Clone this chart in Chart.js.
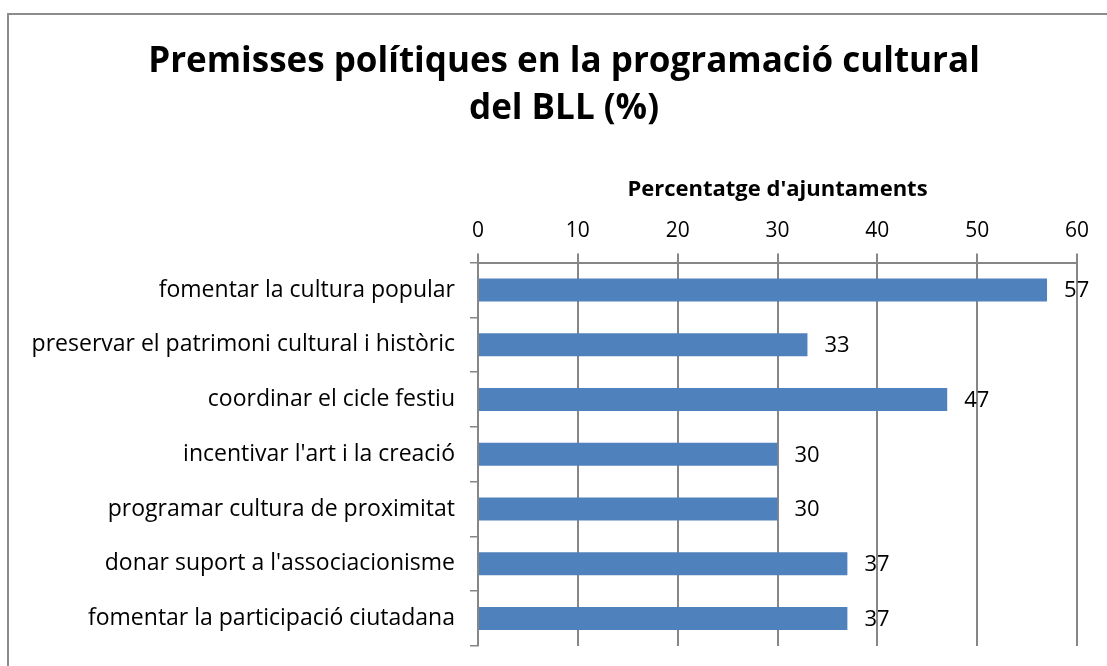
<!DOCTYPE html>
<html>
<head>
<meta charset="utf-8">
<title>Premisses polítiques en la programació cultural del BLL</title>
<script src="https://cdn.jsdelivr.net/npm/chart.js@4"></script>
<style>
  body { margin: 0; background: #fff; }
  canvas { display: block; }
</style>
</head>
<body>
<canvas id="premissesChart" width="1107" height="666"></canvas>
<script>
// Premisses i percentatge d'ajuntaments que les assenyalen
const premisses = [
    'fomentar la cultura popular',
    'preservar el patrimoni cultural i històric',
    'coordinar el cicle festiu',
    "incentivar l'art i la creació",
    'programar cultura de proximitat',
    "donar suport a l'associacionisme",
    'fomentar la participació ciutadana'
];
const percentatges = [57, 33, 47, 30, 30, 37, 37];

// Escala de l'eix horitzontal
const escalaMin = 0;
const escalaMax = 60;
const escalaPas = 10;

const titol = ['Premisses polítiques en la programació cultural', 'del BLL (%)'];

const FONT = "'Open Sans', sans-serif";
const GRIS = '#868686';

// Marc gris i títol (el títol va centrat sobre el marc, no sobre el canvas)
const marc = {
    id: 'marc',
    beforeDraw(chart) {
        const c = chart.ctx;
        c.save();
        c.strokeStyle = '#8c8c8c';
        c.lineWidth = 2;
        c.strokeRect(8, 14, chart.width + 20, chart.height + 20);
        c.fillStyle = '#000';
        c.font = 'bold 35px ' + FONT;
        c.textAlign = 'center';
        c.textBaseline = 'middle';
        titol.forEach((linia, i) => c.fillText(linia, 564, 62 + i * 47));
        c.restore();
    }
};

// Valor al costat de cada barra
const etiquetes = {
    id: 'etiquetes',
    afterDatasetsDraw(chart) {
        const c = chart.ctx;
        const meta = chart.getDatasetMeta(0);
        c.save();
        c.font = '22px ' + FONT;
        c.fillStyle = '#000';
        c.textAlign = 'left';
        c.textBaseline = 'middle';
        meta.data.forEach((bar, i) => {
            c.fillText(String(percentatges[i]), bar.x + 17, bar.y + 1);
        });
        c.restore();
    }
};

new Chart(document.getElementById('premissesChart'), {
    type: 'bar',
    data: {
        labels: premisses,
        datasets: [{
            data: percentatges,
            backgroundColor: '#4F81BD',
            barPercentage: 0.42,
            categoryPercentage: 1
        }]
    },
    options: {
        indexAxis: 'y',
        responsive: false,
        animation: false,
        layout: { padding: { left: 10, right: 30, top: 163, bottom: 20 } },
        plugins: {
            legend: { display: false },
            tooltip: { enabled: false },
            title: { display: false }
        },
        scales: {
            x: {
                position: 'top',
                min: escalaMin,
                max: escalaMax,
                ticks: {
                    stepSize: escalaPas,
                    color: '#000',
                    padding: 10,
                    font: { family: FONT, size: 21 }
                },
                grid: { color: GRIS, lineWidth: 2, tickLength: 9 },
                border: { display: true, color: GRIS, width: 2 },
                title: {
                    display: true,
                    text: "Percentatge d'ajuntaments",
                    color: '#000',
                    font: { family: FONT, size: 22, weight: 'bold' },
                    padding: { top: 14, bottom: 5 }
                }
            },
            y: {
                afterFit(scale) {
                    scale.width = 468;
                    scale.paddingTop = 0;
                    scale.paddingBottom = 0;
                },
                ticks: {
                    color: '#000',
                    padding: 15,
                    font: { family: FONT, size: 23 }
                },
                grid: { drawOnChartArea: false, color: GRIS, lineWidth: 1.5, tickLength: 8 },
                border: { display: true, color: GRIS, width: 2 }
            }
        }
    },
    plugins: [marc, etiquetes]
});
</script>
</body>
</html>
